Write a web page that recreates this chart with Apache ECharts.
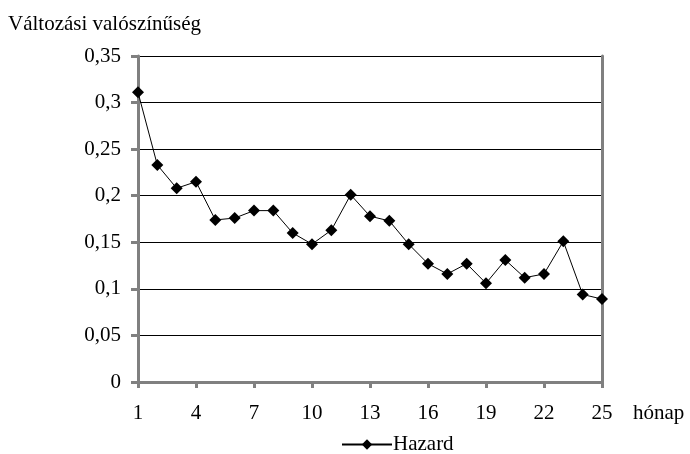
<!DOCTYPE html>
<html>
<head>
<meta charset="utf-8">
<script src="https://cdn.jsdelivr.net/npm/echarts@6/dist/echarts.min.js"></script>
<style>html,body{margin:0;padding:0;background:#fff}#c{width:690px;height:454px}</style>
</head>
<body>
<div id="c"></div>
<script>
const months = ['1','2','3','4','5','6','7','8','9','10','11','12','13','14','15','16','17','18','19','20','21','22','23','24','25'];
const hazard = [0.311,0.233,0.208,0.215,0.174,0.176,0.184,0.184,0.160,0.148,0.163,0.201,0.178,0.173,0.148,0.127,0.116,0.127,0.106,0.131,0.112,0.116,0.151,0.094,0.089];
const yTicks = [0,0.05,0.1,0.15,0.2,0.25,0.3,0.35];
const seriesName = 'Hazard';
const yName = 'Változási valószínűség';
const xName = 'hónap';

const font = 'Liberation Serif';
const fs = 21;
const chart = echarts.init(document.getElementById('c'));
chart.setOption({
  animation: false,
  backgroundColor: '#fff',
  textStyle: {fontFamily: font},
  title: {text: yName, left: 8, top: 14, padding: 0, textStyle: {fontFamily: font, fontSize: fs, fontWeight: 'normal', color: '#000'}},
  grid: {left: 138, right: 88, top: 56, bottom: 72},
  legend: {
    top: 434, left: 341, itemWidth: 50, itemHeight: 13, itemGap: 2, padding: 0,
    data: [{name: seriesName}],
    textStyle: {fontFamily: font, fontSize: fs, color: '#000', padding: [0,0,0,-4]}
  },
  xAxis: {
    type: 'category', data: months, boundaryGap: false,
    name: xName, nameLocation: 'end', nameGap: 31,
    nameTextStyle: {fontFamily: font, fontSize: fs, color: '#000', align: 'left', verticalAlign: 'top', padding: [21,0,0,0]},
    axisLine: {lineStyle: {color: '#808080', width: 3}},
    axisTick: {interval: 2, length: 6, lineStyle: {color: '#808080', width: 3}},
    axisLabel: {interval: 2, margin: 21, fontSize: fs, color: '#000', fontFamily: font},
    splitLine: {show: false}
  },
  yAxis: [{
    type: 'value', min: 0, max: 0.35, interval: 0.05,
    axisLine: {show: true, lineStyle: {color: '#808080', width: 3}},
    axisTick: {show: true, length: 7, lineStyle: {color: '#808080', width: 3}},
    axisLabel: {margin: 17, fontSize: fs, color: '#000', fontFamily: font,
      formatter: v => { const t = yTicks.find(x => Math.abs(x - v) < 1e-9); return String(t !== undefined ? t : v).replace('.', ','); }},
    splitLine: {show: true, lineStyle: {color: '#000', width: 1}}
  }, {
    type: 'value', min: 0, max: 0.35, interval: 0.05, position: 'right',
    axisLine: {show: true, lineStyle: {color: '#808080', width: 3}},
    axisTick: {show: false}, axisLabel: {show: false}, splitLine: {show: false}
  }],
  series: [{
    name: seriesName, type: 'line', data: hazard,
    symbol: 'diamond', symbolSize: 12,
    itemStyle: {color: '#000'},
    lineStyle: {color: '#000', width: 1}
  }]
});
</script>
</body>
</html>
